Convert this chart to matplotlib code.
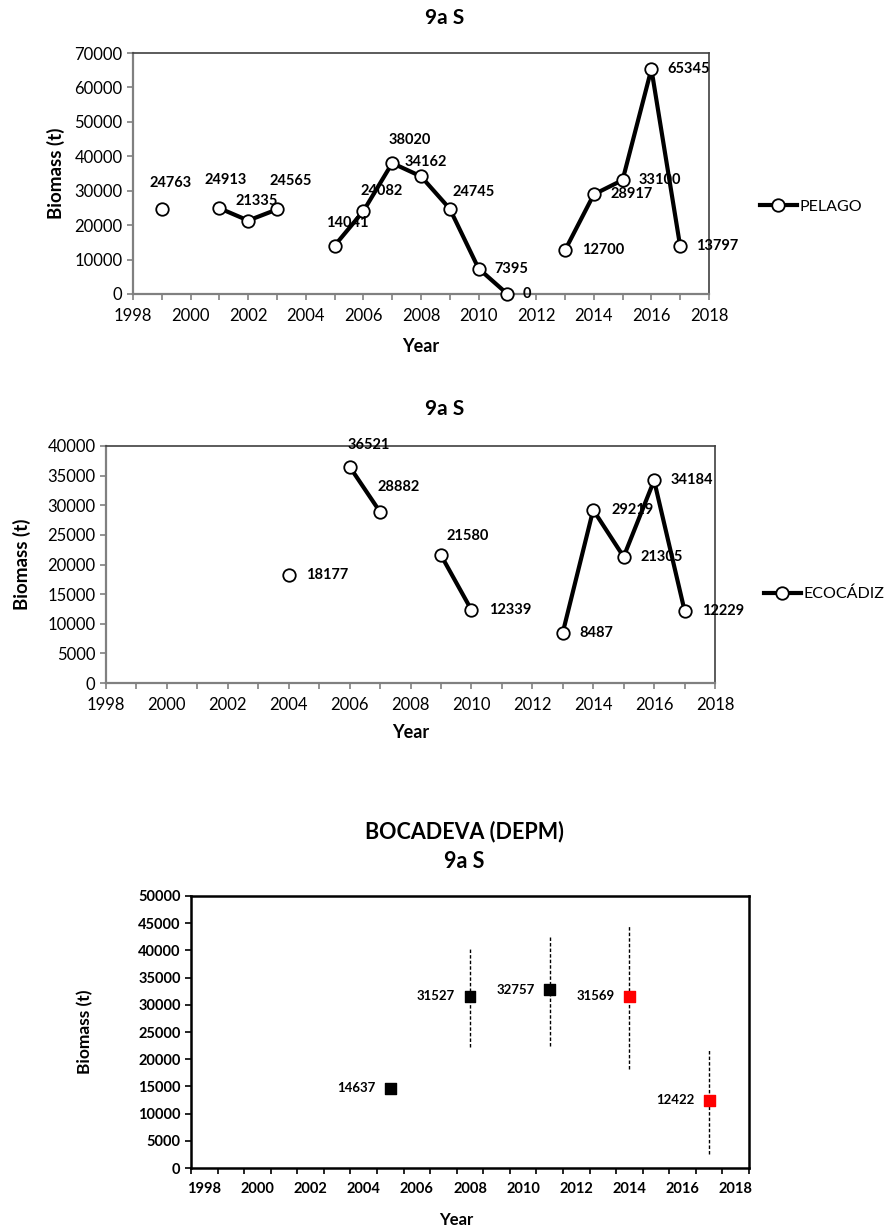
import numpy as np
import matplotlib
matplotlib.use("Agg")
from matplotlib import pyplot as plt
from matplotlib.ticker import MultipleLocator

plt.rcParams["font.family"] = ["Lato", "DejaVu Sans"]

#* PELAGO acoustic survey
pelago_years = [1999, 2000, 2001, 2002, 2003, 2004, 2005, 2006, 2007, 2008,
                2009, 2010, 2011, 2012, 2013, 2014, 2015, 2016, 2017]
pelago_biomass = [24763, np.nan, 24913, 21335, 24565, np.nan, 14041, 24082, 38020, 34162,
                  24745, 7395, 0, np.nan, 12700, 28917, 33100, 65345, 13797]

#* ECOCADIZ acoustic survey
eco_years = [2004, 2005, 2006, 2007, 2008, 2009, 2010, 2011, 2012,
             2013, 2014, 2015, 2016, 2017]
eco_biomass = [18177, np.nan, 36521, 28882, np.nan, 21580, 12339, np.nan, np.nan,
               8487, 29219, 21305, 34184, 12229]

#* BOCADEVA (DEPM) with confidence limits
depm_years = [2005, 2008, 2011, 2014, 2017]
depm_biomass = [14637, 31527, 32757, 31569, 12422]
depm_low = [np.nan, 22200, 22500, 18200, 2600]
depm_high = [np.nan, 40300, 42500, 44500, 21600]
depm_colors = ["black", "black", "black", "red", "red"]

# label offsets (pixels) for the data labels: (dx, dy, ha)
pelago_offsets = [(9, 26, "center"), None, (6, 28, "center"), (8, 20, "center"), (14, 28, "center"), None,
                  (13, 23, "center"), (18, 20, "center"), (18, 23, "center"), (5, 14, "center"),
                  (24, 17, "center"), (16, 0, "left"), (15, 0, "left"), None,
                  (17, 0, "left"), (17, 0, "left"), (16, 0, "left"), (16, 0, "left"), (16, 0, "left")]
eco_offsets = [(17, 0, "left"), None, (19, 22, "center"), (19, 25, "center"), None,
               (27, 19, "center"), (18, 0, "left"), None, None,
               (17, 0, "left"), (18, 0, "left"), (17, 0, "left"), (16, 0, "left"), (17, 0, "left")]

W, H = 887, 1227
fig = plt.figure(figsize=(W / 100, H / 100), dpi=100)


def box(left, top, right, bottom):
    return [left / W, 1 - bottom / H, (right - left) / W, (bottom - top) / H]


def ftext(x, y, s, **kw):
    fig.text(x / W, 1 - y / H, s, ha="center", va="center", **kw)


def acoustic_panel(rect, years, biomass, offsets, ymax, ystep, name, title_y, ylab_x, year_y, leg_xy):
    ax = fig.add_axes(rect)
    ax.plot(years, biomass, color="black", lw=3, marker="o", ms=9,
            mfc="white", mec="black", mew=1.3, label=name, clip_on=False, zorder=3)
    for x, v, off in zip(years, biomass, offsets):
        if off is None or np.isnan(v):
            continue
        dx, dy, ha = off
        ax.annotate(f"{int(v)}", (x, v), xytext=(dx * 0.72, dy * 0.72), textcoords="offset points",
                    ha=ha, va="center", fontsize=10.5, fontweight="bold", zorder=4)
    ax.set_xlim(1998, 2018)
    ax.set_ylim(0, ymax)
    ax.xaxis.set_major_locator(MultipleLocator(2))
    ax.xaxis.set_minor_locator(MultipleLocator(1))
    ax.yaxis.set_major_locator(MultipleLocator(ystep))
    ax.tick_params(axis="both", which="both", direction="out", length=4, width=1.2,
                   colors="#808080", labelcolor="black", labelsize=12)
    ax.tick_params(axis="x", pad=6)
    for s in ["left", "bottom"]:
        ax.spines[s].set_color("#808080")
        ax.spines[s].set_linewidth(1.6)
    for s in ["top", "right"]:
        ax.spines[s].set_color("#404040")
        ax.spines[s].set_linewidth(1.2)
    bb = ax.get_position()
    cx = (bb.x0 + bb.x1) / 2 * W
    ftext(445, title_y, "9a S", fontsize=15, fontweight="bold")
    ftext(cx, year_y, "Year", fontsize=13, fontweight="bold")
    ftext(ylab_x, (1 - (bb.y0 + bb.y1) / 2) * H, "Biomass (t)", rotation=90, fontsize=13.5, fontweight="bold")
    fig.legend(handles=ax.get_lines(), loc="center left",
               bbox_to_anchor=(leg_xy[0] / W, 1 - leg_xy[1] / H), frameon=False,
               fontsize=11.5, handlelength=2.3, handletextpad=0.15, borderpad=0)
    return ax


acoustic_panel(box(133, 53, 709, 294), pelago_years, pelago_biomass, pelago_offsets,
               70000, 10000, "PELAGO", 18, 56, 347, (752, 207))
acoustic_panel(box(106, 446, 715, 683), eco_years, eco_biomass, eco_offsets,
               40000, 5000, "ECOCÁDIZ", 409, 22, 733, (756, 594))

#* DEPM panel
ax = fig.add_axes(box(191, 896, 749, 1168))
ax.vlines(depm_years, depm_low, depm_high, colors="black", lw=1, linestyles=(0, (2.5, 1.5)), zorder=2)
ax.scatter(depm_years, depm_biomass, marker="s", s=60, c=depm_colors, zorder=3)
for x, v in zip(depm_years, depm_biomass):
    ax.annotate(f"{v}", (x, v), xytext=(-15 * 0.72, 0), textcoords="offset points",
                ha="right", va="center", fontsize=9.5, fontweight="bold")
ax.set_xlim(1997.5, 2018.5)
ax.set_ylim(0, 50000)
xt = np.arange(1998, 2019, 2)
yt = np.arange(0, 50001, 5000)
ax.set_xticks(xt, [str(t) for t in xt], fontweight="bold", fontsize=10.5)
ax.set_xticks(np.arange(1997.5, 2019, 1), minor=True)
ax.set_yticks(yt, [str(t) for t in yt], fontweight="bold", fontsize=10.5)
ax.tick_params(axis="x", which="major", length=0, pad=10)
ax.tick_params(axis="x", which="minor", length=4, width=1.2, direction="out")
ax.tick_params(axis="y", length=4, width=1.2, direction="out")
for s in ax.spines.values():
    s.set_linewidth(1.8)
ftext(464, 832, "BOCADEVA (DEPM)", fontsize=15.5, fontweight="bold")
ftext(464, 862, "9a S", fontsize=15.5, fontweight="bold")
ftext(456, 1220, "Year", fontsize=12, fontweight="bold")
ftext(85, 1032, "Biomass (t)", rotation=90, fontsize=12.5, fontweight="bold")

fig.savefig("out.png", dpi=100)
